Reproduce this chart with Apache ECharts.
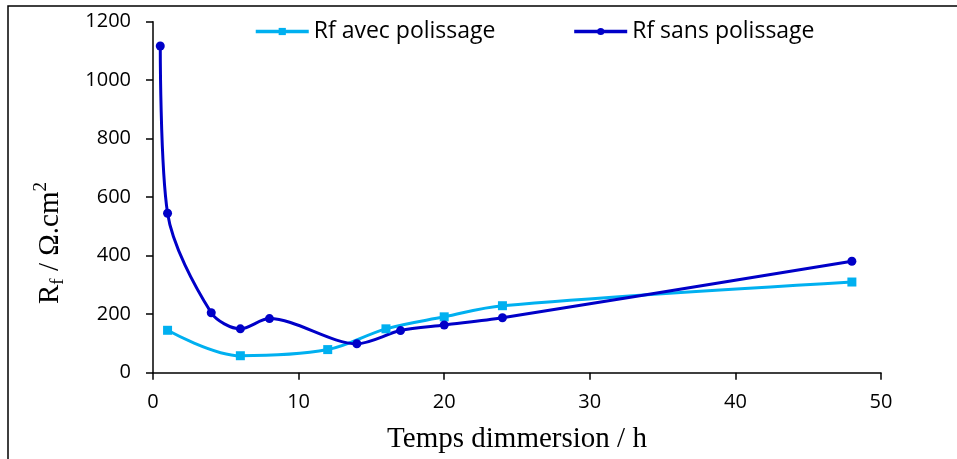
<!DOCTYPE html>
<html><head><meta charset="utf-8">
<script src="https://cdn.jsdelivr.net/npm/echarts@6/dist/echarts.min.js"></script>
<style>html,body{margin:0;padding:0;background:#fff}#c{width:957px;height:459px}</style>
</head><body><div id="c"></div>
<script>
const seriesNames = ['Rf avec polissage', 'Rf sans polissage'];
const avecX = [1, 6, 12, 16, 20, 24, 48];
const avecY = [145, 58, 79, 150, 191, 229, 310];
const sansX = [0.5, 1, 4, 6, 8, 14, 17, 20, 24, 48];
const sansY = [1117, 545, 205, 150, 185, 99, 144, 163, 188, 381];
const xTitle = 'Temps dimmersion / h';
const yTitle = '{a|R}{s|f}{a| / Ω.cm}{p|2}';

const zip = (xs, ys) => xs.map((x, i) => [x, ys[i]]);
const chart = echarts.init(document.getElementById('c'));
const tickFont = {fontFamily: 'Open Sans', fontSize: 20, color: '#000'};
const serif = 'Liberation Serif';
chart.setOption({
  animation: false,
  graphic: [
    {type: 'rect', shape: {x: 8, y: 6, width: 1200, height: 1000}, style: {fill: 'none', stroke: '#000', lineWidth: 1.5}, silent: true},
    {type: 'text', x: 50, y: 243, rotation: Math.PI / 2, silent: true,
     style: {text: yTitle, align: 'center', verticalAlign: 'middle', fill: '#000',
       rich: {
         a: {fontFamily: serif, fontSize: 29, fill: '#000', verticalAlign: 'middle', lineHeight: 36},
         s: {fontFamily: serif, fontSize: 19, fill: '#000', verticalAlign: 'bottom', lineHeight: 14},
         p: {fontFamily: serif, fontSize: 19, fill: '#000', verticalAlign: 'top', lineHeight: 14}
       }}}
  ],
  grid: {left: 153, right: 76, top: 21.7, bottom: 86.3},
  legend: {
    top: 15, left: 249, itemWidth: 53, itemHeight: 9, itemGap: 77,
    lineStyle: {width: 3.5},
    textStyle: {fontFamily: 'Open Sans', fontSize: 23, color: '#000'},
    data: seriesNames
  },
  xAxis: {
    type: 'value', min: 0, max: 50, interval: 10,
    axisLine: {lineStyle: {color: '#000', width: 1.5}},
    axisTick: {show: true, length: 7, lineStyle: {color: '#000', width: 1.5}},
    axisLabel: Object.assign({margin: 20}, tickFont),
    splitLine: {show: false},
    name: xTitle, nameLocation: 'middle', nameGap: 52,
    nameTextStyle: {fontFamily: serif, fontSize: 29, color: '#000'}
  },
  yAxis: {
    type: 'value', min: 0, max: 1200, interval: 200,
    axisLine: {show: true, lineStyle: {color: '#000', width: 1.5}},
    axisTick: {show: true, length: 7, lineStyle: {color: '#000', width: 1.5}},
    axisLabel: Object.assign({margin: 22, formatter: v => String(v)}, tickFont),
    splitLine: {show: false}
  },
  series: [
    {name: seriesNames[0], type: 'line', data: zip(avecX, avecY), smooth: 0.35,
     symbol: 'rect', symbolSize: 9, color: '#00B0F0', lineStyle: {width: 3, color: '#00B0F0'}, itemStyle: {color: '#00B0F0'}},
    {name: seriesNames[1], type: 'line', data: zip(sansX, sansY), smooth: 0.3,
     symbol: 'circle', symbolSize: 9, color: '#0000C8', lineStyle: {width: 3, color: '#0000C8'}, itemStyle: {color: '#0000C8'}}
  ]
});
</script></body></html>
